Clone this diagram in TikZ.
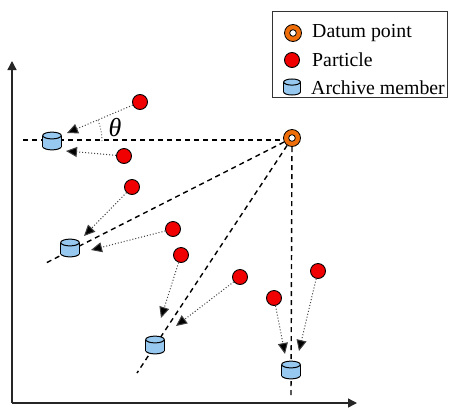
\documentclass[tikz,border=0pt]{standalone}
\usepackage{fontspec}
\setmainfont{Liberation Serif}
\usetikzlibrary{arrows.meta}
\definecolor{partred}{RGB}{240,0,0}
\definecolor{datumor}{RGB}{240,110,10}
\definecolor{archblue}{RGB}{150,200,240}
\tikzset{
  particle/.style={circle,draw=black,line width=0.9pt,fill=partred,minimum size=15pt,inner sep=0pt},
  datum/.style={circle,draw=black,line width=0.8pt,fill=datumor,minimum size=17pt,inner sep=0pt,
    path picture={\draw[black,line width=0.8pt,fill=white] (path picture bounding box.center) circle (3.3pt);}},
  cylline/.style={draw=black,line width=1pt},
  cyl/.pic={
    \coordinate (-c) at (0,0);
    \filldraw[cylline,fill=archblue] (0,5.5) ellipse [x radius=9.3,y radius=3.4];
    \fill[archblue] (-9.3,-5.5) rectangle (9.3,5.5);
    \draw[cylline] (-9.3,-5.5) -- (-9.3,5.5);
    \draw[cylline] (9.3,-5.5) -- (9.3,5.5);
    \filldraw[cylline,fill=archblue] (0,-5.5) ellipse [x radius=9.3,y radius=3.4];
  },
  move/.style={dotted,line width=1pt,draw=black!75,-{Triangle[length=11pt,width=10pt,fill=black]}},
  ray/.style={dashed,dash pattern=on 5pt off 4pt,line width=1.4pt},
  axis/.style={line width=1.4pt,draw=black!85,-{Triangle[length=9pt,width=9pt]}},
  legtext/.style={anchor=west,font=\fontsize{19.8}{22}\selectfont,inner sep=0pt}
}
\begin{document}
\begin{tikzpicture}[x=1pt,y=-1pt]
\useasboundingbox (0,0) rectangle (449,410);
% axes
\coordinate (origin) at (12,403);
\coordinate (ytip) at (12,61);
\coordinate (xtip) at (357,403);
\draw[axis] (origin) -- (ytip);
\draw[axis] (origin) -- (xtip);
% legend
\node[draw=black!80,line width=1pt,minimum width=175pt,minimum height=86pt,anchor=north west] (legend) at (272,11) {};
\node[datum] (ld) at (293,33) {};
\node[particle] (lp) at (292,60) {};
\pic[scale=0.9] (la) at (292,87) {cyl};
\node[legtext] (ldt) at (312,33) {Datum point};
\node[legtext] (lpt) at (312,60) {Particle};
\node[legtext] (lat) at (311,88) {Archive member};
% ray ends
\coordinate (e1) at (20,140);
\coordinate (e2) at (44,264);
\coordinate (e3) at (137,373);
\coordinate (e4) at (291,396);
% datum point
\coordinate (dc) at (292,138);
\draw[ray] (dc) ++(-3,2) -- (e1);
\draw[ray] (dc) -- (e2);
\draw[ray] (dc) -- (e3);
\draw[ray] (dc) -- (e4);
\node[datum] (d) at (dc) {};
% archive members
\pic (a1) at (52,141) {cyl};
\pic (a2) at (70,248) {cyl};
\pic (a3) at (155,345) {cyl};
\pic (a4) at (291,370) {cyl};
% particles
\node[particle] (p1) at (140,102) {};
\node[particle] (p2) at (124,156) {};
\node[particle] (p3) at (132,187) {};
\node[particle] (p4) at (173,229) {};
\node[particle] (p5) at (181,255) {};
\node[particle] (p6) at (240,277) {};
\node[particle] (p7) at (274,298) {};
\node[particle] (p8) at (318,271) {};
% arrow tips
\coordinate (t1) at (67,133);
\coordinate (t2) at (66,151);
\coordinate (t3) at (84,236);
\coordinate (t4) at (91,250);
\coordinate (t5) at (161,318);
\coordinate (t6) at (176,326);
\coordinate (t7) at (285,354);
\coordinate (t8) at (299,351);
\draw[move] (p1) -- (t1);
\draw[move] (p2) -- (t2);
\draw[move] (p3) -- (t3);
\draw[move] (p4) -- (t4);
\draw[move] (p5) -- (t5);
\draw[move] (p6) -- (t6);
\draw[move] (p7) -- (t7);
\draw[move] (p8) -- (t8);
% angle
\coordinate (ac) at (46,141);
\draw[dotted,line width=0.9pt,draw=black!70] (ac) ++(0:56) arc[start angle=0,end angle=-22,radius=56];
\node[font=\fontsize{26}{28}\selectfont\itshape,inner sep=0pt] (theta) at (115,128) {θ};
\end{tikzpicture}
\end{document}
